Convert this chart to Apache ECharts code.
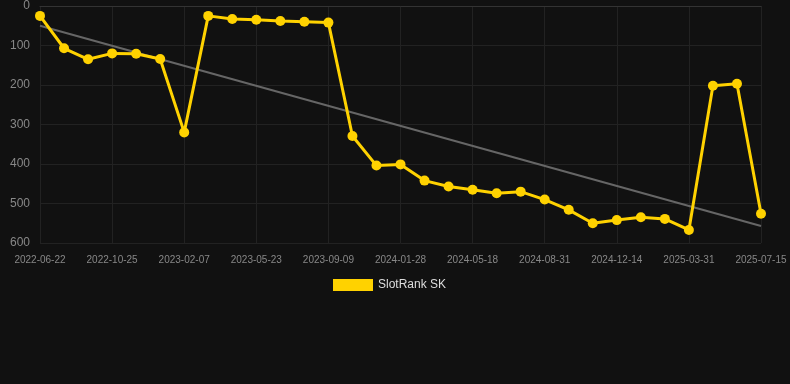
<!DOCTYPE html>
<html><head><meta charset="utf-8">
<script src="https://cdn.jsdelivr.net/npm/echarts@6/dist/echarts.min.js"></script>
<style>html,body{margin:0;padding:0;background:#111111;}#c{width:790px;height:384px;}</style>
</head><body><div id="c"></div>
<script>
const categories = [
  '2022-06-22','2022-08-03','2022-09-13','2022-10-25','2022-11-29','2023-01-03','2023-02-07',
  '2023-03-14','2023-04-18','2023-05-23','2023-06-28','2023-08-04','2023-09-09','2023-10-26',
  '2023-12-12','2024-01-28','2024-03-06','2024-04-10','2024-05-18','2024-06-22','2024-07-27',
  '2024-08-31','2024-10-05','2024-11-09','2024-12-14','2025-01-20','2025-02-23','2025-03-31',
  '2025-05-05','2025-06-09','2025-07-15'
];
const rankValues = [25,107,135,120,121,134,320,25,33,35,38,40,42,329,404,401,442,457,465,474,470,490,516,550,542,535,539,567,202,197,526];
const trendStart = 50;
const trendEnd = 557;
const yTicks = [0,100,200,300,400,500,600];

const trendData = categories.map((c,i)=> i===0 ? trendStart : (i===categories.length-1 ? trendEnd : null));

const chart = echarts.init(document.getElementById('c'));
chart.setOption({
  backgroundColor:'#111111',
  animation:false,
  grid:{left:40,right:29,top:6,bottom:141,containLabel:false},
  legend:{
    data:['SlotRank SK'],
    bottom:88,left:328,
    itemWidth:40,itemHeight:12,
    textStyle:{color:'#dddddd',fontSize:12,fontFamily:'Liberation Sans, Arial, sans-serif'},
    icon:'rect'
  },
  xAxis:{
    type:'category',data:categories,boundaryGap:false,
    axisLine:{show:true,lineStyle:{color:'#333333'}},
    axisTick:{show:false},
    axisLabel:{interval:2,color:'#888888',fontSize:10,margin:12,fontFamily:'Liberation Sans, Arial, sans-serif'},
    splitLine:{show:true,interval:2,lineStyle:{color:'#222222'}}
  },
  yAxis:{
    type:'value',inverse:true,min:yTicks[0],max:yTicks[yTicks.length-1],interval:100,
    axisLine:{show:false},axisTick:{show:false},
    axisLabel:{color:'#888888',fontSize:12,margin:10,fontFamily:'Liberation Sans, Arial, sans-serif'},
    splitLine:{lineStyle:{color:'#222222'}}
  },
  series:[
    {
      name:'Trend',type:'line',data:trendData,connectNulls:true,
      symbol:'none',lineStyle:{color:'#666666',width:2},itemStyle:{color:'#666666'},z:1,silent:true
    },
    {
      name:'SlotRank SK',type:'line',data:rankValues,
      symbol:'circle',symbolSize:10,
      lineStyle:{color:'#FFD200',width:3},itemStyle:{color:'#FFD200'},z:2
    }
  ]
});
</script></body></html>
